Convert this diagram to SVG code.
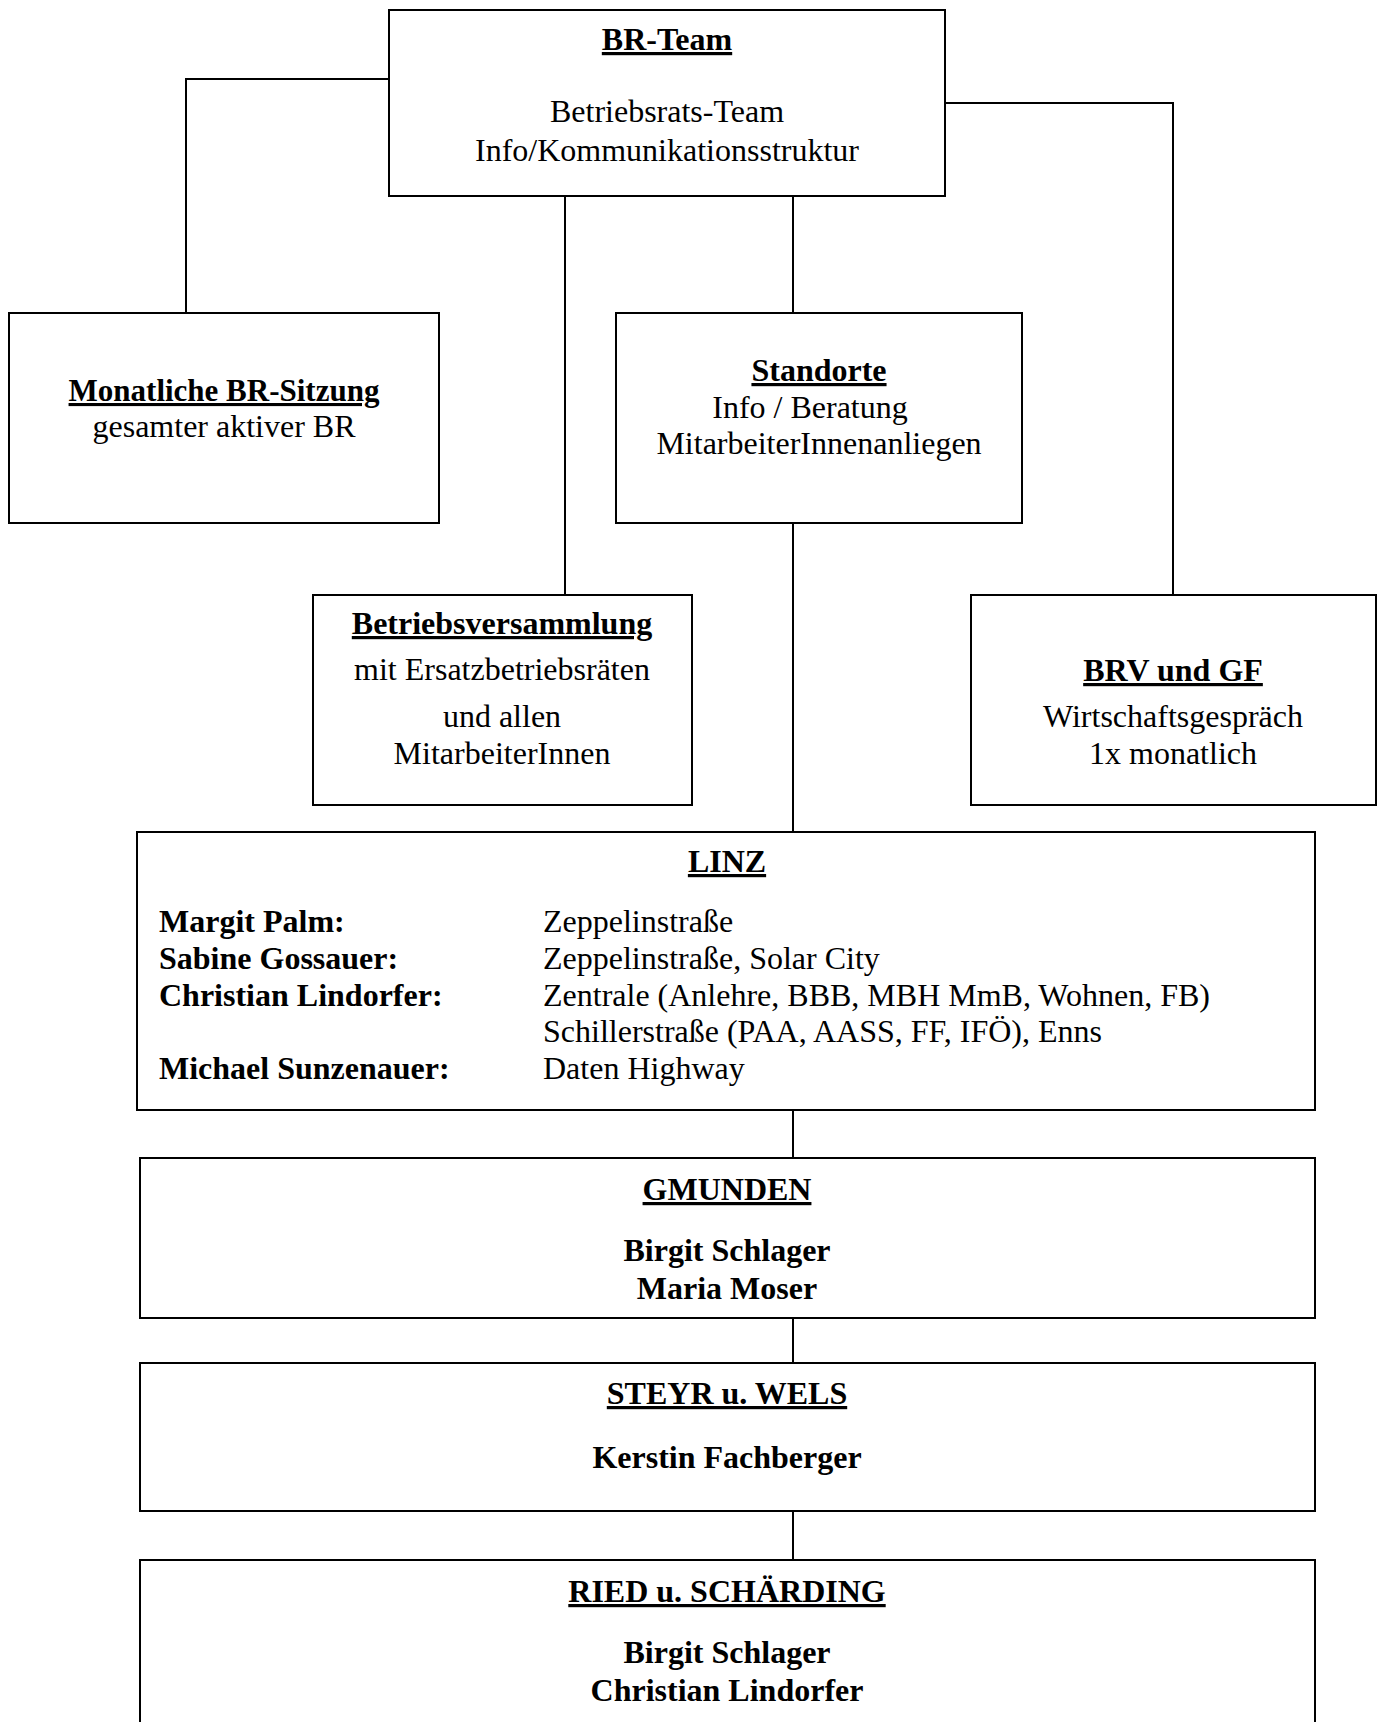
<svg xmlns="http://www.w3.org/2000/svg" width="1381" height="1722" viewBox="0 0 1381 1722">
<style>
.box{fill:#fff;stroke:#000;stroke-width:2}
.con{fill:none;stroke:#000;stroke-width:2}
text{font-family:"Liberation Serif","Times New Roman",serif;font-size:32px;fill:#000}
.c{text-anchor:middle}
.b{font-weight:bold}
.u{font-weight:bold;text-decoration:underline}
</style>
<rect width="1381" height="1722" fill="#fff"/>
<g id="connectors">
<polyline class="con" points="389,79 186,79 186,313"/>
<polyline class="con" points="945,103 1173,103 1173,595"/>
<line class="con" x1="565" y1="196" x2="565" y2="595"/>
<line class="con" x1="793" y1="196" x2="793" y2="313"/>
<line class="con" x1="793" y1="523" x2="793" y2="832"/>
<line class="con" x1="793" y1="1110" x2="793" y2="1158" stroke-width="1.5"/>
<line class="con" x1="793" y1="1318" x2="793" y2="1363" stroke-width="1.5"/>
<line class="con" x1="793" y1="1511" x2="793" y2="1560" stroke-width="1.5"/>
</g>
<g id="br-team">
<rect class="box" x="389" y="10" width="556" height="186"/>
<text class="c u" x="667" y="50">BR-Team</text>
<text class="c" x="667" y="122">Betriebsrats-Team</text>
<text class="c" x="667" y="161">Info/Kommunikationsstruktur</text>
</g>
<g id="monatliche">
<rect class="box" x="9" y="313" width="430" height="210"/>
<text class="c u" x="224" y="401" style="font-size:31px">Monatliche BR-Sitzung</text>
<text class="c" x="224" y="437">gesamter aktiver BR</text>
</g>
<g id="standorte">
<rect class="box" x="616" y="313" width="406" height="210"/>
<text class="c u" x="819" y="381">Standorte</text>
<text class="c" x="810" y="418">Info / Beratung</text>
<text class="c" x="819" y="454">MitarbeiterInnenanliegen</text>
</g>
<g id="betriebsversammlung">
<rect class="box" x="313" y="595" width="379" height="210"/>
<text class="c u" x="502" y="634">Betriebsversammlung</text>
<text class="c" x="502" y="680">mit Ersatzbetriebsräten</text>
<text class="c" x="502" y="727">und allen</text>
<text class="c" x="502" y="764">MitarbeiterInnen</text>
</g>
<g id="brv-gf">
<rect class="box" x="971" y="595" width="405" height="210"/>
<text class="c u" x="1173" y="681">BRV und GF</text>
<text class="c" x="1173" y="727">Wirtschaftsgespräch</text>
<text class="c" x="1173" y="764">1x monatlich</text>
</g>
<g id="linz">
<rect class="box" x="137" y="832" width="1178" height="278"/>
<text class="c u" x="727" y="872">LINZ</text>
<text class="b" x="159" y="932">Margit Palm:</text>
<text class="b" x="159" y="969">Sabine Gossauer:</text>
<text class="b" x="159" y="1006">Christian Lindorfer:</text>
<text class="b" x="159" y="1079">Michael Sunzenauer:</text>
<text x="543" y="932">Zeppelinstraße</text>
<text x="543" y="969">Zeppelinstraße, Solar City</text>
<text x="543" y="1006">Zentrale (Anlehre, BBB, MBH MmB, Wohnen, FB)</text>
<text x="543" y="1042">Schillerstraße (PAA, AASS, FF, IFÖ), Enns</text>
<text x="543" y="1079">Daten Highway</text>
</g>
<g id="gmunden">
<rect class="box" x="140" y="1158" width="1175" height="160"/>
<text class="c u" x="727" y="1200">GMUNDEN</text>
<text class="c b" x="727" y="1261">Birgit Schlager</text>
<text class="c b" x="727" y="1299">Maria Moser</text>
</g>
<g id="steyr-wels">
<rect class="box" x="140" y="1363" width="1175" height="148"/>
<text class="c u" x="727" y="1404">STEYR u. WELS</text>
<text class="c b" x="727" y="1468">Kerstin Fachberger</text>
</g>
<g id="ried-schaerding">
<rect class="box" x="140" y="1560" width="1175" height="180"/>
<text class="c u" x="727" y="1602">RIED u. SCHÄRDING</text>
<text class="c b" x="727" y="1663">Birgit Schlager</text>
<text class="c b" x="727" y="1701">Christian Lindorfer</text>
</g>
</svg>
